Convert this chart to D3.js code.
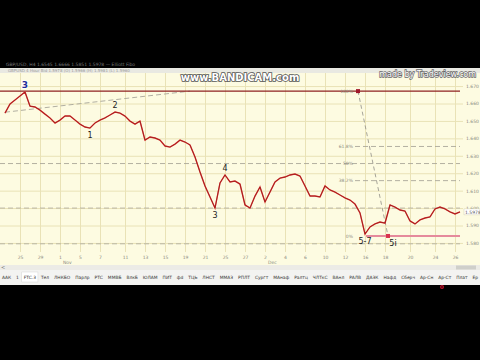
<!DOCTYPE html>
<html>
<head>
<meta charset="utf-8">
<script src="https://cdn.jsdelivr.net/npm/d3@7"></script>
<style>
  html, body { margin: 0; padding: 0; background: #000; }
  svg { display: block; }
  text { font-family: "DejaVu Sans", "Liberation Sans", sans-serif; }
</style>
</head>
<body>
<div id="chart"></div>
<script>
/**
 * DATA
 * */
const prices = [
  1.6545, 1.6597, 1.6620, 1.6643, 1.6666, 1.6585, 1.6580, 1.6562, 1.6539, 1.6517,
  1.6488, 1.6505, 1.6528, 1.6528, 1.6505, 1.6482, 1.6465, 1.6459, 1.6488, 1.6505,
  1.6517, 1.6534, 1.6551, 1.6545, 1.6528, 1.6499, 1.6482, 1.6499, 1.6390, 1.6408,
  1.6402, 1.6390, 1.6356, 1.6350, 1.6367, 1.6390, 1.6379, 1.6362, 1.6293, 1.6207,
  1.6127, 1.6064, 1.6000, 1.6144, 1.6190, 1.6150, 1.6155, 1.6138, 1.6018, 1.6000,
  1.6069, 1.6121, 1.6035, 1.6092, 1.6150, 1.6172, 1.6178, 1.6190, 1.6195, 1.6184,
  1.6127, 1.6069, 1.6069, 1.6064, 1.6127, 1.6104, 1.6092, 1.6075, 1.6058, 1.6046,
  1.6023, 1.5972, 1.5851, 1.5892, 1.5909, 1.5920, 1.5914, 1.6018, 1.6006, 1.5989,
  1.5983, 1.5926, 1.5909, 1.5932, 1.5943, 1.5949, 1.5995, 1.6006, 1.5995, 1.5978,
  1.5966, 1.5978
];

const tickIdx = [3, 7, 11, 15, 19, 24, 28, 32, 36, 40, 44, 48, 52, 56, 60, 64, 68, 72, 76, 81, 86, 90];
const tickLabels = ["25", "29", "1", "5", "7", "11", "13", "15", "19", "21", "25",
                    "27", "2", "4", "6", "10", "12", "16", "18", "20", "24", "26"];
const monthIdx = [11, 52];
const monthLabels = ["Nov", "Dec"];

const yTicks = [1.580, 1.590, 1.600, 1.610, 1.620, 1.630, 1.640, 1.650, 1.660, 1.670];

// fibonacci retracement drawn on the last swing
const fibAnchorIdx = [70.6, 76.6];
const fibAnchorPrice = [1.6671, 1.5840];
const fibRatios = [1, 0.618, 0.5, 0.382, 0];
const fibLabels = ["100%", "61.8%", "50%", "38.2%", "0%"];
const fibStartIdx = [-1, 70, -1, 70, 72.2];

const trendIdx = [0, 37];
const trendPrice = [1.6550, 1.6671];
const levelPrices = [1.6000, 1.5795];

const waveText = ["3", "1", "2", "3", "4", "5-7", "5i"];
const waveIdx = [4, 17, 22, 42, 44, 72, 77.6];
const wavePrice = [1.6666, 1.6459, 1.6551, 1.6000, 1.6190, 1.5851, 1.5840];
const waveSide = ["up", "down", "up", "down", "up", "down", "down"];

const tabs = ["ААК", "1", "FTC.3", "Тел", "ЛНКБО", "Парлр", "РТС", "ММВБ", "ВлкБ", "ЮЛАМ",
              "ПИТ", "фd", "ТЦЬ", "ЛНСТ", "ММАЗ", "РПЛТ", "Сургт", "МАнаф", "Ралтц", "ЧЛТкС",
              "ВАнл", "РАЛВ", "ДАЗК", "Нафд", "Сберч", "Ар-Сн", "Ар-Ст", "Плат", "Ер"];

/**
 * LAYOUT
 * */
const W = 480, H = 360;
const plot = { top: 73, bottom: 252, left: 0, right: 463 };

const svg = d3.select("#chart").append("svg")
  .attr("width", W)
  .attr("height", H);

svg.append("rect").attr("width", W).attr("height", H).attr("fill", "#000");

// header strip
svg.append("text").attr("x", 6).attr("y", 66)
  .attr("font-size", 4.5).attr("fill", "#777")
  .text("GBP/USD, H4  1.6545  1.6666  1.5851  1.5978   —   Elliott   Fibo");
svg.append("rect").attr("x", 0).attr("y", 68).attr("width", W).attr("height", 5).attr("fill", "#e9e9e2");
svg.append("text").attr("x", 8).attr("y", 72)
  .attr("font-size", 4).attr("fill", "#999")
  .text("GBPUSD  4 Hour  Bid  1.5978  (O) 1.5966  (H) 1.5981  (L) 1.5960");

// chart background
svg.append("rect")
  .attr("x", 0).attr("y", plot.top)
  .attr("width", W).attr("height", 270 - plot.top)
  .attr("fill", "#fdfbe1");

const x = d3.scaleLinear().domain([0, prices.length - 1]).range([5, 460]);
const y = d3.scaleLinear().domain([1.5748, 1.6775]).range([plot.bottom, plot.top]);

// grid
svg.append("g")
  .attr("class", "grid")
  .call(d3.axisRight(y).tickValues(yTicks).tickSize(plot.right).tickFormat(""))
  .call(g => g.select(".domain").remove())
  .call(g => g.selectAll("line").attr("stroke", "#e9e2b6"));

svg.append("g")
  .attr("class", "grid")
  .attr("transform", `translate(0,${plot.bottom})`)
  .call(d3.axisBottom(x).tickValues(tickIdx).tickSize(-(plot.bottom - plot.top)).tickFormat(""))
  .call(g => g.select(".domain").remove())
  .call(g => g.selectAll("line").attr("stroke", "#e9e2b6"));

// axes labels
const yAxis = svg.append("g")
  .attr("transform", `translate(${plot.right + 1},0)`)
  .call(d3.axisRight(y).tickValues(yTicks).tickSize(0).tickPadding(2).tickFormat(d3.format(".3f")));
yAxis.select(".domain").remove();
yAxis.selectAll("text").attr("font-size", 4.5).attr("fill", "#8a8a80").attr("font-family", "DejaVu Sans");

const xAxis = svg.append("g")
  .attr("transform", `translate(0,${plot.bottom})`)
  .call(d3.axisBottom(x).tickValues(tickIdx).tickSize(0).tickPadding(4)
    .tickFormat((d, i) => tickLabels[i]));
xAxis.select(".domain").remove();
xAxis.selectAll("text").attr("font-size", 4.5).attr("fill", "#8a8a80").attr("font-family", "DejaVu Sans");

svg.append("g").selectAll("text")
  .data(monthIdx)
  .join("text")
  .attr("x", d => x(d) + 3)
  .attr("y", 264)
  .attr("font-size", 4.5)
  .attr("fill", "#8a8a80")
  .text((d, i) => monthLabels[i]);

// horizontal levels
svg.append("g").selectAll("line")
  .data(levelPrices)
  .join("line")
  .attr("x1", 0).attr("x2", 460)
  .attr("y1", d => y(d)).attr("y2", d => y(d))
  .attr("stroke", "#b4b0a0").attr("stroke-width", 0.9)
  .attr("stroke-dasharray", "5,3");

// trend line
svg.append("line")
  .attr("x1", x(trendIdx[0])).attr("y1", y(trendPrice[0]))
  .attr("x2", x(trendIdx[1])).attr("y2", y(trendPrice[1]))
  .attr("stroke", "#a8a69a").attr("stroke-width", 0.9)
  .attr("stroke-dasharray", "5,3");

// fibonacci
const fibHi = fibAnchorPrice[0], fibLo = fibAnchorPrice[1];
const fibG = svg.append("g");
fibRatios.forEach((r, k) => {
  const p = fibLo + (fibHi - fibLo) * r;
  const x1 = fibStartIdx[k] < 0 ? 0 : x(fibStartIdx[k]);
  const line = fibG.append("line")
    .attr("x1", x1).attr("x2", 460)
    .attr("y1", y(p)).attr("y2", y(p));
  if (r === 1) {
    line.attr("stroke", "#8e2020").attr("stroke-width", 1.2);
  } else if (r === 0) {
    line.attr("stroke", "#e58a9c").attr("stroke-width", 2);
  } else {
    line.attr("stroke", "#aaa79a").attr("stroke-width", 0.9).attr("stroke-dasharray", "5,3");
  }
  fibG.append("text")
    .attr("x", x(fibAnchorIdx[0]) - 5)
    .attr("y", y(p) + 1.6)
    .attr("text-anchor", "end")
    .attr("font-size", 4.5)
    .attr("fill", "#8a8a80")
    .text(fibLabels[k]);
});
fibG.append("line")
  .attr("x1", x(fibAnchorIdx[0])).attr("y1", y(fibHi))
  .attr("x2", x(fibAnchorIdx[1])).attr("y2", y(fibLo))
  .attr("stroke", "#9c9a90").attr("stroke-width", 0.9)
  .attr("stroke-dasharray", "4,3");
fibG.append("rect")
  .attr("x", x(fibAnchorIdx[0]) - 2).attr("y", y(fibHi) - 2)
  .attr("width", 4).attr("height", 4).attr("fill", "#a0182a");
fibG.append("rect")
  .attr("x", x(fibAnchorIdx[1]) - 2).attr("y", y(fibLo) - 2)
  .attr("width", 4).attr("height", 4).attr("fill", "#d8344e");

// price line
const line = d3.line()
  .x((d, i) => x(i))
  .y(d => y(d));

svg.append("path")
  .datum(prices)
  .attr("fill", "none")
  .attr("stroke", "#d83030")
  .attr("stroke-width", 1.4)
  .attr("stroke-linejoin", "miter")
  .attr("d", line);

svg.append("path")
  .datum(prices)
  .attr("fill", "none")
  .attr("stroke", "#7a1010")
  .attr("stroke-width", 0.5)
  .attr("d", line);

// wave labels
svg.append("g").selectAll("text")
  .data(waveText)
  .join("text")
  .attr("x", (d, i) => x(waveIdx[i]))
  .attr("y", (d, i) => y(wavePrice[i]) + (waveSide[i] === "up" ? -4 : 10))
  .attr("text-anchor", "middle")
  .attr("font-size", (d, i) => i === 0 ? 9 : 8)
  .attr("font-weight", (d, i) => i === 0 ? "bold" : "normal")
  .attr("fill", (d, i) => i === 0 ? "#1f2f9a" : "#222")
  .attr("stroke", (d, i) => i === 0 ? "#fff" : "none")
  .attr("stroke-width", 1.5)
  .attr("paint-order", "stroke")
  .text(d => d);

// current price tag
const last = prices[prices.length - 1];
svg.append("rect")
  .attr("x", plot.right + 1).attr("y", y(last) - 3)
  .attr("width", 16).attr("height", 6)
  .attr("fill", "#fff").attr("stroke", "#c9c4a0").attr("stroke-width", 0.4);
svg.append("text")
  .attr("x", plot.right + 2).attr("y", y(last) + 1.6)
  .attr("font-size", 4.5).attr("fill", "#555")
  .text(d3.format(".4f")(last));

// scrollbar
svg.append("rect").attr("x", 0).attr("y", 265).attr("width", W).attr("height", 5).attr("fill", "#ecebe6");
svg.append("rect").attr("x", 456).attr("y", 265.5).attr("width", 20).attr("height", 4).attr("fill", "#cfcfca");
svg.append("text").attr("x", 1).attr("y", 269).attr("font-size", 5).attr("fill", "#777").text("<");

// tabs, spread to fit the window width
svg.append("rect").attr("x", 0).attr("y", 270).attr("width", W).attr("height", 15).attr("fill", "#f3f3f1");
const tabG = svg.append("g");
const tabNodes = tabs.map(t => tabG.append("text")
  .attr("y", 279)
  .attr("font-size", 4.4)
  .attr("fill", "#333")
  .text(t));
const tabW = tabNodes.map(n => n.node().getComputedTextLength());
const gap = (W - 4 - d3.sum(tabW)) / (tabs.length - 1);
let tx = 2;
tabNodes.forEach((n, k) => {
  n.attr("x", tx);
  if (tabs[k] === "FTC.3") {
    tabG.insert("rect", "text")
      .attr("x", tx - 2).attr("y", 272).attr("width", tabW[k] + 4).attr("height", 10)
      .attr("fill", "#fff").attr("stroke", "#ccc").attr("stroke-width", 0.4);
  }
  tx += tabW[k] + gap;
});
svg.append("circle").attr("cx", 442).attr("cy", 287).attr("r", 2).attr("fill", "#c0102a");
svg.append("circle").attr("cx", 442).attr("cy", 287).attr("r", 0.8).attr("fill", "#000");

// watermarks
svg.append("text")
  .attr("x", 240).attr("y", 81)
  .attr("text-anchor", "middle")
  .attr("font-size", 10).attr("font-weight", "bold")
  .attr("fill", "#fff").attr("stroke", "#555").attr("stroke-width", 1.6)
  .attr("paint-order", "stroke")
  .attr("font-family", "Liberation Sans")
  .text("www.BANDICAM.com");
svg.append("text")
  .attr("x", 476).attr("y", 77)
  .attr("text-anchor", "end")
  .attr("font-size", 8)
  .attr("fill", "#fff").attr("stroke", "#666").attr("stroke-width", 1.4)
  .attr("paint-order", "stroke")
  .attr("font-family", "Liberation Sans")
  .text("made by Tradeview.com");
</script>
</body>
</html>
